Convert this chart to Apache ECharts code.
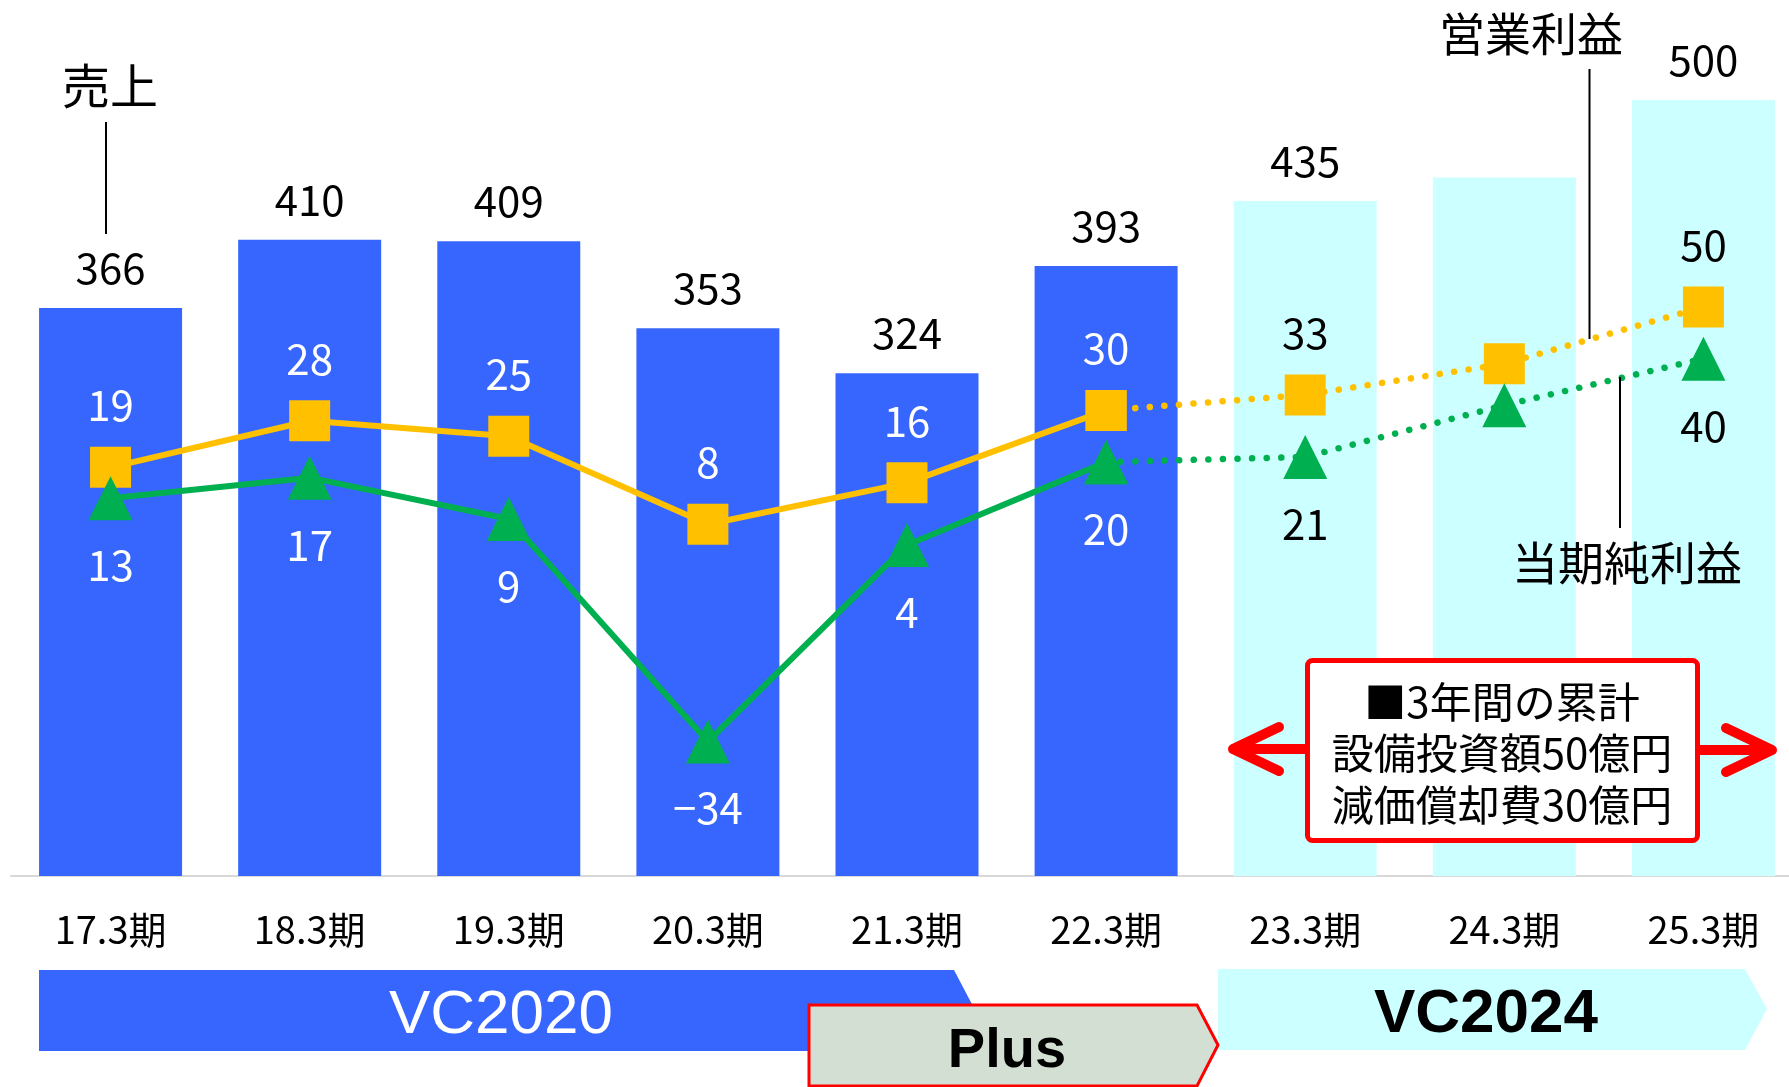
<!DOCTYPE html>
<html>
<head>
<meta charset="utf-8">
<script src="https://cdn.jsdelivr.net/npm/echarts@6/dist/echarts.min.js"></script>
<style>
  html, body { margin: 0; padding: 0; background: #fff; }
  #chart { width: 1789px; height: 1087px; }
</style>
</head>
<body>
<div id="chart"></div>
<script>
// values (億円)
const categories = ['17.3期', '18.3期', '19.3期', '20.3期', '21.3期', '22.3期', '23.3期', '24.3期', '25.3期'];
const revenue = [366, 410, 409, 353, 324, 393, 435, 450, 500];
const operatingProfit = [19, 28, 25, 8, 16, 30, 33, 39, 50];
const netProfit = [13, 17, 9, -34, 4, 20, 21, 31, 40];
const unlabeled = ['24.3期'];
const actualCount = 6; // 17.3 .. 22.3 are actuals, rest is the plan

const font = '"Noto Sans CJK JP", "Noto Sans", sans-serif';
const BLUE = '#3766FF';
const CYAN = '#CCFFFF';
const GOLD = '#FFC000';
const GREEN = '#00B050';

const fmt = v => String(v).replace('-', '\u2212');

function barData() {
  return revenue.map((v, i) => ({
    value: v,
    itemStyle: { color: i < actualCount ? BLUE : CYAN },
    label: { show: unlabeled.indexOf(categories[i]) < 0 }
  }));
}

// split a line into solid (actual) and dotted (plan) parts
function lineData(arr, solid) {
  return arr.map((v, i) => {
    let inPart = solid ? i < actualCount : i >= actualCount - 1;
    if (!inPart) return '-';
    let showLbl = unlabeled.indexOf(categories[i]) < 0 && (solid || i >= actualCount);
    return {
      value: v,
      label: { show: showLbl, color: i < actualCount ? '#fff' : '#000' }
    };
  });
}

function lineSeries(name, arr, color, symbol, size, labelOffset, solid) {
  return {
    name: name,
    type: 'line',
    yAxisIndex: 1,
    data: lineData(arr, solid),
    symbol: symbol,
    symbolSize: size,
    itemStyle: { color: color },
    lineStyle: solid
      ? { color: color, width: 6 }
      : { color: color, width: 6.5, type: [0.1, 14.5], cap: 'round' },
    label: {
      show: true,
      position: 'inside',
      offset: [0, labelOffset],
      fontSize: 42,
      fontFamily: font,
      formatter: p => fmt(p.value)
    },
    z: solid ? 4 : 3,
    animation: false
  };
}

const txt = (text, x, y, size, extra) => Object.assign({
  type: 'text', z: 100,
  style: { text: text, x: x, y: y, fill: '#000', font: 'normal ' + size + 'px ' + font,
           textAlign: 'center', textVerticalAlign: 'middle' }
}, extra || {});
const vline = (x, y1, y2) => ({
  type: 'line', z: 100,
  shape: { x1: x, y1: y1, x2: x, y2: y2 },
  style: { stroke: '#000', lineWidth: 2 }
});
const redStroke = { stroke: '#FF0000', lineWidth: 10, lineCap: 'round', lineJoin: 'round', fill: null };

let chart = echarts.init(document.getElementById('chart'));
let option = {
  animation: false,
  grid: { left: 11, width: 1792, top: 100, bottom: 211, containLabel: false, outerBoundsMode: 'none' },
  xAxis: {
    type: 'category',
    data: categories,
    axisTick: { show: false },
    axisLine: { lineStyle: { color: '#D9D9D9', width: 2 } },
    axisLabel: { interval: 0, color: '#000', fontSize: 38, margin: 35, fontFamily: font }
  },
  yAxis: [
    { type: 'value', min: 0, max: 500, show: false, splitLine: { show: false } },
    { type: 'value', min: -60, max: 90, show: false, splitLine: { show: false } }
  ],
  series: [
    {
      name: '売上',
      type: 'bar',
      data: barData(),
      barWidth: 143,
      label: { show: true, position: 'top', distance: 19, color: '#000', fontSize: 42, fontFamily: font },
      z: 2
    },
    lineSeries('営業利益', operatingProfit, GOLD, 'rect', 41, -62, true),
    lineSeries('営業利益計画', operatingProfit, GOLD, 'rect', 41, -62, false),
    lineSeries('当期純利益', netProfit, GREEN, 'triangle', 44, 67, true),
    lineSeries('当期純利益計画', netProfit, GREEN, 'triangle', 44, 67, false)
  ],
  graphic: [
    txt('売上', 110, 86, 48),
    vline(106, 122, 234),
    txt('営業利益', 1531, 34, 46),
    vline(1589.5, 69, 339),
    txt('当期純利益', 1627, 563, 46),
    vline(1620, 377, 528),

    // cumulative capex box with arrows
    { type: 'line', z: 100, shape: { x1: 1234, y1: 749, x2: 1306, y2: 749 }, style: redStroke },
    { type: 'polyline', z: 100, shape: { points: [[1279, 727], [1233, 749], [1279, 771]] }, style: redStroke },
    { type: 'line', z: 100, shape: { x1: 1699, y1: 750, x2: 1771, y2: 750 }, style: redStroke },
    { type: 'polyline', z: 100, shape: { points: [[1726, 728], [1772, 750], [1726, 772]] }, style: redStroke },
    { type: 'rect', z: 101, shape: { x: 1307.5, y: 660.5, width: 390, height: 180, r: 5 },
      style: { fill: '#fff', stroke: '#FF0000', lineWidth: 5 } },
    txt('■3年間の累計', 1502, 702, 42, { z: 102 }),
    txt('設備投資額50億円', 1502, 753, 42, { z: 102 }),
    txt('減価償却費30億円', 1502, 805, 42, { z: 102 }),

    // plan periods
    { type: 'polygon', z: 100,
      shape: { points: [[39, 970], [954, 970], [975, 1010], [954, 1051], [39, 1051]] },
      style: { fill: BLUE } },
    txt('VC2020', 501, 1016, 62, { style: { text: 'VC2020', x: 501, y: 1016, fill: '#fff',
      font: 'normal 62px "Liberation Sans", Arial, sans-serif', textAlign: 'center', textVerticalAlign: 'middle' } }),
    { type: 'polygon', z: 100,
      shape: { points: [[1218, 969], [1745, 969], [1767, 1009], [1745, 1050], [1218, 1050]] },
      style: { fill: CYAN } },
    txt('VC2024', 1486, 1015, 62, { style: { text: 'VC2024', x: 1486, y: 1015, fill: '#000',
      font: 'bold 62px "Liberation Sans", Arial, sans-serif', textAlign: 'center', textVerticalAlign: 'middle' } }),
    { type: 'polygon', z: 105,
      shape: { points: [[809, 1005], [1197, 1005], [1218, 1045], [1197, 1086], [809, 1086]] },
      style: { fill: '#D4DFD4', stroke: '#FF0000', lineWidth: 3 } },
    txt('Plus', 1007, 1052, 56, { z: 106, style: { text: 'Plus', x: 1007, y: 1052, fill: '#000',
      font: 'bold 56px "Liberation Sans", Arial, sans-serif', textAlign: 'center', textVerticalAlign: 'middle' } })
  ]
};
chart.setOption(option);
</script>
</body>
</html>
